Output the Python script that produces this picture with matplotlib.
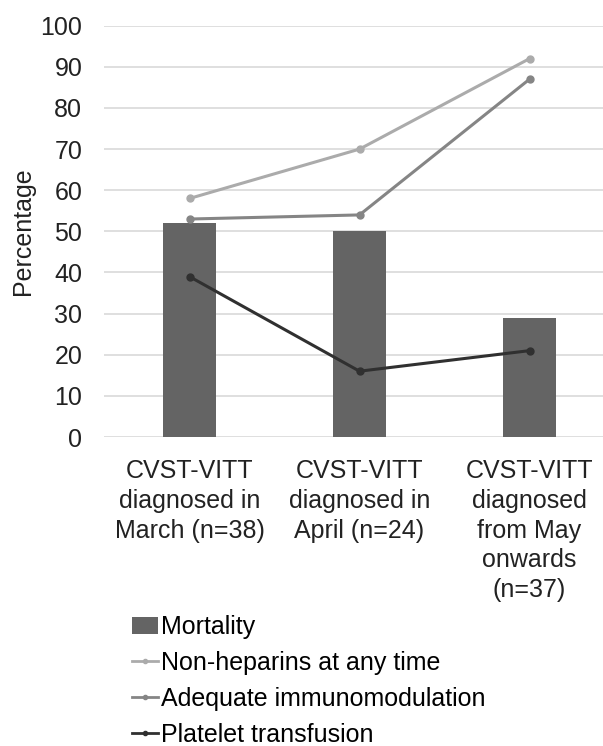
import matplotlib
matplotlib.use("Agg")
from matplotlib import pyplot as plt
from matplotlib.patches import Patch
from matplotlib.lines import Line2D
import numpy as np

categories = [
    "CVST-VITT\ndiagnosed in\nMarch (n=38)",
    "CVST-VITT\ndiagnosed in\nApril (n=24)",
    "CVST-VITT\ndiagnosed\nfrom May\nonwards\n(n=37)",
]
mortality = [52, 50, 29]
non_heparins = [58, 70, 92]
immunomodulation = [53, 54, 87]
platelet = [39, 16, 21]
y_ticks = list(range(0, 101, 10))


def main() -> None:
    plt.rcParams["font.family"] = ["Liberation Sans", "DejaVu Sans"]
    fig = plt.figure(figsize=(6.03, 7.46), dpi=100)
    # right side of the plot area runs past the picture edge (cropped original)
    ax = fig.add_axes([0.1733, 0.4142, 0.8458, 0.5513])

    x = np.arange(len(categories))
    ax.bar(x, mortality, width=0.31, color="#646464", zorder=2)

    line_specs = [
        (non_heparins, "#ababab"),
        (immunomodulation, "#858585"),
        (platelet, "#303030"),
    ]
    for vals, col in line_specs:
        ax.plot(x, vals, color=col, linewidth=2.2, marker="o",
                markersize=5, zorder=3)

    fs = 18
    ax.set_xlim(-0.5, 2.5)
    ax.set_ylim(0, 100)
    ax.set_yticks(y_ticks)
    ax.set_xticks(x)
    ax.set_xticklabels(categories, fontsize=fs, linespacing=1.3)
    ax.tick_params(axis="both", length=0, labelsize=fs, colors="#222222")
    ax.tick_params(axis="x", pad=16)
    ax.tick_params(axis="y", pad=16)
    ax.set_ylabel("Percentage", fontsize=fs, color="#222222", labelpad=4)
    ax.grid(axis="y", color="#d9d9d9", linewidth=1.2, zorder=0)
    ax.set_axisbelow(True)
    for s in ax.spines.values():
        s.set_visible(False)

    handles = [
        Patch(facecolor="#646464"),
        Line2D([], [], color="#ababab", linewidth=2, marker="o", markersize=3),
        Line2D([], [], color="#858585", linewidth=2, marker="o", markersize=3),
        Line2D([], [], color="#303030", linewidth=2, marker="o", markersize=3),
    ]
    labels = ["Mortality", "Non-heparins at any time",
              "Adequate immunomodulation", "Platelet transfusion"]
    fig.legend(handles, labels, loc="upper left",
               bbox_to_anchor=(0.219, 0.175), frameon=False, fontsize=fs,
               handlelength=1.04, handletextpad=0.12, labelspacing=0.47,
               borderaxespad=0, borderpad=0)

    fig.savefig("out.png", dpi=100)


if __name__ == "__main__":
    main()
